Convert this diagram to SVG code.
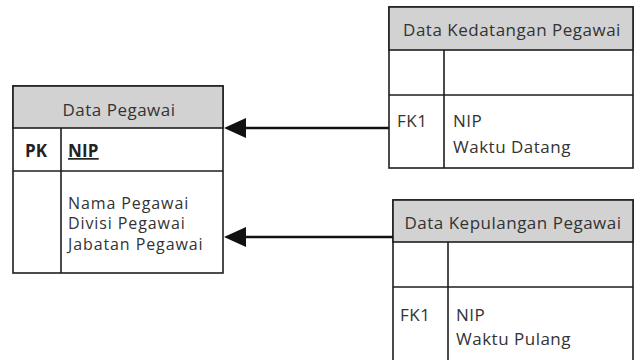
<svg xmlns="http://www.w3.org/2000/svg" width="634" height="360" viewBox="0 0 634 360">
<style>
.box{fill:#fff;stroke:#1e1e1e;stroke-width:1.6}
.hdr{fill:#d2d2d2;stroke:#1e1e1e;stroke-width:1.6}
.ln{stroke:#1e1e1e;stroke-width:1.6;fill:none}
.t{font-family:"Open Sans","Liberation Sans",sans-serif;font-size:17px;letter-spacing:0.5px;fill:#333}
.s{font-size:16px;letter-spacing:0.9px}
.b{font-weight:bold;fill:#222;letter-spacing:0.2px}
.c{text-anchor:middle}
.conn{stroke:#111;stroke-width:2.6;fill:none}
.ah{fill:#111}
</style>
<rect width="634" height="360" fill="#fff"/>
<g id="data-pegawai">
<rect class="box" x="13" y="86" width="210" height="187"/>
<rect class="hdr" x="13" y="86" width="210" height="42"/>
<line class="ln" x1="13" y1="171" x2="223" y2="171"/>
<line class="ln" x1="61" y1="128" x2="61" y2="273"/>
<text class="t c" x="119" y="116">Data Pegawai</text>
<text class="t b" x="25" y="157">PK</text>
<text class="t b" x="68" y="157" text-decoration="underline">NIP</text>
<text class="t s" x="68" y="209">Nama Pegawai</text>
<text class="t s" x="68" y="229">Divisi Pegawai</text>
<text class="t s" x="68" y="250">Jabatan Pegawai</text>
</g>
<g id="data-kedatangan">
<rect class="box" x="389" y="7" width="244" height="161"/>
<rect class="hdr" x="389" y="7" width="244" height="43"/>
<line class="ln" x1="389" y1="95" x2="633" y2="95"/>
<line class="ln" x1="444" y1="50" x2="444" y2="168"/>
<text class="t c" x="512" y="36">Data Kedatangan Pegawai</text>
<text class="t" x="397" y="127">FK1</text>
<text class="t" x="453" y="127">NIP</text>
<text class="t" x="453" y="153">Waktu Datang</text>
</g>
<g id="data-kepulangan">
<path class="box" d="M393,361 L393,200 L633,200 L633,361"/>
<rect class="hdr" x="393" y="200" width="240" height="42"/>
<line class="ln" x1="393" y1="287" x2="633" y2="287"/>
<line class="ln" x1="448" y1="242" x2="448" y2="361"/>
<text class="t c" x="513" y="229">Data Kepulangan Pegawai</text>
<text class="t" x="400" y="321">FK1</text>
<text class="t" x="456" y="321">NIP</text>
<text class="t" x="456" y="345">Waktu Pulang</text>
</g>
<g id="connectors">
<line class="conn" x1="389" y1="128" x2="244" y2="128"/>
<polygon class="ah" points="224,128 246,118 246,138"/>
<line class="conn" x1="393" y1="237" x2="244" y2="237"/>
<polygon class="ah" points="224,237 246,227 246,247"/>
</g>
</svg>
